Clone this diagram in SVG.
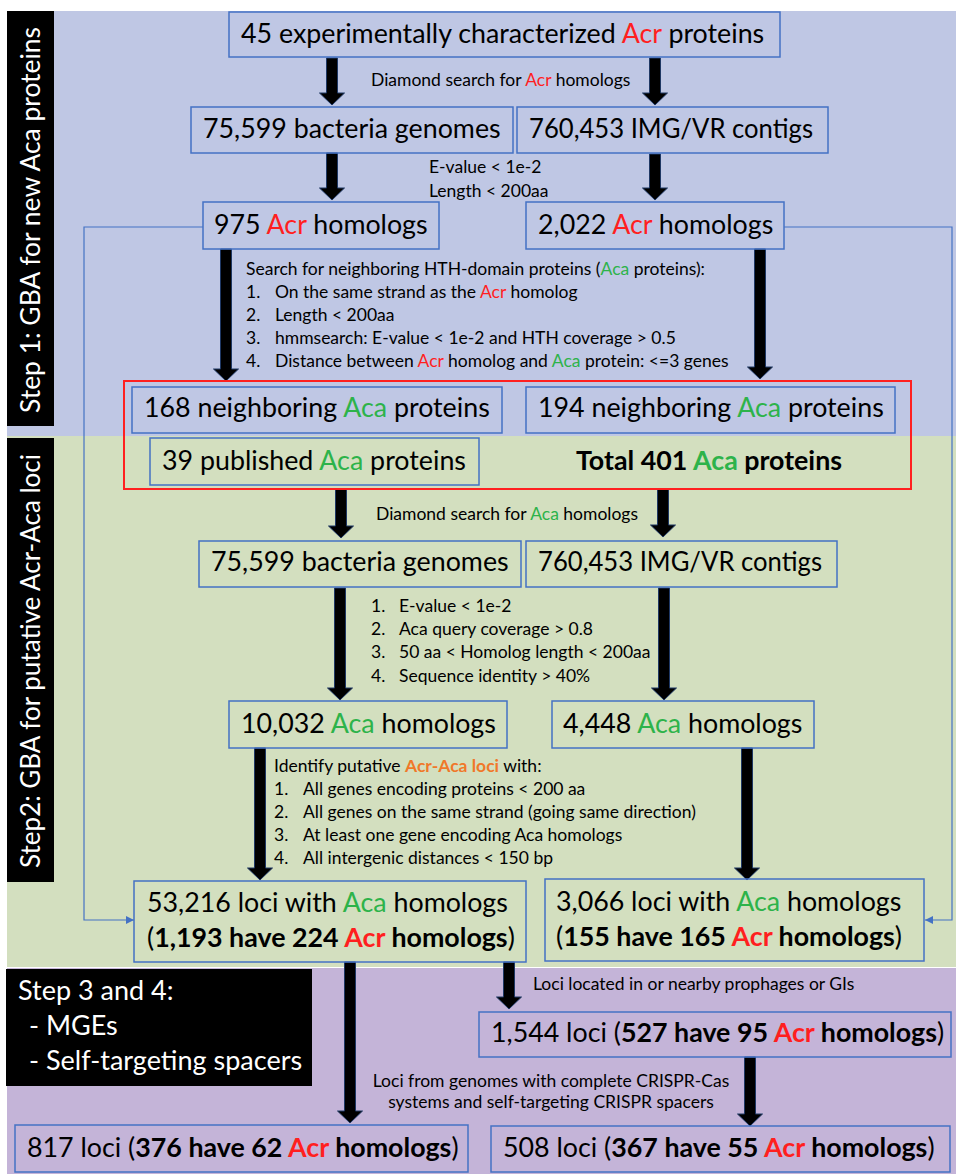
<svg xmlns="http://www.w3.org/2000/svg" width="956" height="1174" viewBox="0 0 956 1174">
<defs>
<style>
.t{font-family:Lato,"Open Sans","Liberation Sans",sans-serif;fill:#000}
.big{font-size:26.8px}
.sm{font-size:17.5px}
.wt{fill:#fff;font-size:27px}
.r{fill:#FF1F1F}
.g{fill:#2DB34A}
.o{fill:#F0782A;font-weight:bold}
.b{font-weight:bold}
.box{fill:none;stroke:#4472C4;stroke-width:1.5}
.arr{fill:#000;stroke:#1F3864;stroke-width:1}
.con{fill:none;stroke:#4472C4;stroke-width:1.2}
</style>
<marker id="ah" viewBox="0 0 10 10" refX="10" refY="5" markerWidth="8" markerHeight="8" markerUnits="userSpaceOnUse" orient="auto"><path d="M0,0 L10,5 L0,10 Z" fill="#4472C4"/></marker>
</defs>
<rect width="956" height="1174" fill="#fff"/>
<rect x="7" y="11" width="949" height="425" fill="#BFC7E4"/>
<rect x="7" y="436" width="949" height="531" fill="#D3DFBF"/>
<rect x="7" y="968" width="949" height="206" fill="#C4B4D8"/>

<g id="label-step1">
<rect x="7" y="11" width="47" height="415" fill="#000"/>
<text class="t wt" transform="translate(40,413) rotate(-90)" textLength="386" lengthAdjust="spacingAndGlyphs">Step 1: GBA for new Aca proteins</text>
</g>
<g id="label-step2">
<rect x="7" y="438" width="47" height="444" fill="#000"/>
<text class="t wt" transform="translate(40,868) rotate(-90)" textLength="414" lengthAdjust="spacingAndGlyphs">Step2: GBA for putative Acr-Aca loci</text>
</g>
<g id="label-step3">
<rect x="6" y="969" width="306" height="117" fill="#000"/>
<text class="t wt" x="18" y="1000">Step 3 and 4:</text>
<text class="t wt" x="29" y="1035">- MGEs</text>
<text class="t wt" x="29" y="1070">- Self-targeting spacers</text>
</g>

<g id="connectors">
<path class="arr" d="M326.5,58 H337.5 V93 H344.5 L332,105 L319.5,93 H326.5 Z"/>
<path class="arr" d="M649.5,58 H660.5 V93 H667.5 L655,105 L642.5,93 H649.5 Z"/>
<path class="arr" d="M326.5,153 H337.5 V188 H344.5 L332,200 L319.5,188 H326.5 Z"/>
<path class="arr" d="M649.5,154 H660.5 V188 H667.5 L655,200 L642.5,188 H649.5 Z"/>
<path class="arr" d="M220.5,249 H231.5 V369 H238.5 L226,381 L213.5,369 H220.5 Z"/>
<path class="arr" d="M754.5,249 H765.5 V367 H772.5 L760,379 L747.5,367 H754.5 Z"/>
<path class="arr" d="M335.5,489 H346.5 V526 H353.5 L341,538 L328.5,526 H335.5 Z"/>
<path class="arr" d="M657.5,489 H668.5 V525 H675.5 L663,537 L650.5,525 H657.5 Z"/>
<path class="arr" d="M334.5,588 H345.5 V688 H352.5 L340,700 L327.5,688 H334.5 Z"/>
<path class="arr" d="M658.5,588 H669.5 V688 H676.5 L664,700 L651.5,688 H658.5 Z"/>
<path class="arr" d="M254.5,748 H265.5 V868 H272.5 L260,880 L247.5,868 H254.5 Z"/>
<path class="arr" d="M741.5,748 H752.5 V868 H759.5 L747,880 L734.5,868 H741.5 Z"/>
<path class="arr" d="M344.5,962 H355.5 V1111 H362.5 L350,1123 L337.5,1111 H344.5 Z"/>
<path class="arr" d="M503.5,962 H514.5 V997 H521.5 L509,1009 L496.5,997 H503.5 Z"/>
<path class="arr" d="M744.5,1057 H755.5 V1114 H762.5 L750,1126 L737.5,1114 H744.5 Z"/>
<path class="con" d="M203,227 H84 V920 H134" marker-end="url(#ah)"/>
<path class="con" d="M784,227 H952 V920 H925" marker-end="url(#ah)"/>
</g>

<g id="lbl-diamond1"><text class="t sm" x="371" y="86">Diamond search for <tspan class="r">Acr</tspan> homologs</text></g>
<g id="lbl-filter1"><text class="t sm" x="429" y="173">E-value &lt; 1e-2</text><text class="t sm" x="429" y="197">Length &lt; 200aa</text></g>
<g id="lbl-hth">
<text class="t sm" x="246" y="275">Search for neighboring HTH-domain proteins (<tspan class="g">Aca</tspan> proteins):</text>
<text class="t sm" x="246" y="298">1.</text><text class="t sm" x="275" y="298">On the same strand as the <tspan class="r">Acr</tspan> homolog</text>
<text class="t sm" x="246" y="321">2.</text><text class="t sm" x="275" y="321">Length &lt; 200aa</text>
<text class="t sm" x="246" y="344">3.</text><text class="t sm" x="275" y="344">hmmsearch: E-value &lt; 1e-2 and HTH coverage &gt; 0.5</text>
<text class="t sm" x="246" y="367">4.</text><text class="t sm" x="275" y="367">Distance between <tspan class="r">Acr</tspan> homolog and <tspan class="g">Aca</tspan> protein: &lt;=3 genes</text>
</g>
<g id="lbl-diamond2"><text class="t sm" x="376" y="520">Diamond search for <tspan class="g">Aca</tspan> homologs</text></g>
<g id="lbl-filter2">
<text class="t sm" x="371" y="612">1.</text><text class="t sm" x="399" y="612">E-value &lt; 1e-2</text>
<text class="t sm" x="371" y="635">2.</text><text class="t sm" x="399" y="635">Aca query coverage &gt; 0.8</text>
<text class="t sm" x="371" y="658">3.</text><text class="t sm" x="399" y="658">50 aa &lt; Homolog length &lt; 200aa</text>
<text class="t sm" x="371" y="682">4.</text><text class="t sm" x="399" y="682">Sequence identity &gt; 40%</text>
</g>
<g id="lbl-loci">
<text class="t sm" x="274" y="772">Identify putative <tspan class="o">Acr-Aca loci</tspan> with:</text>
<text class="t sm" x="274" y="795">1.</text><text class="t sm" x="303" y="795">All genes encoding proteins &lt; 200 aa</text>
<text class="t sm" x="274" y="818">2.</text><text class="t sm" x="303" y="818">All genes on the same strand (going same direction)</text>
<text class="t sm" x="274" y="841">3.</text><text class="t sm" x="303" y="841">At least one gene encoding Aca homologs</text>
<text class="t sm" x="274" y="864">4.</text><text class="t sm" x="303" y="864">All intergenic distances &lt; 150 bp</text>
</g>
<g id="lbl-prophage"><text class="t sm" x="533" y="990">Loci located in or nearby prophages or GIs</text></g>
<g id="lbl-crispr"><text class="t sm" x="551" y="1087" text-anchor="middle">Loci from genomes with complete CRISPR-Cas</text><text class="t sm" x="551" y="1108" text-anchor="middle">systems and self-targeting CRISPR spacers</text></g>

<g id="n-acr45"><rect class="box" x="229" y="12" width="551" height="45"/><text class="t big" x="241" y="43">45 experimentally characterized <tspan class="r">Acr</tspan> proteins</text></g>
<g id="n-bact1"><rect class="box" x="191" y="107" width="322" height="46"/><text class="t big" x="203" y="138">75,599 bacteria genomes</text></g>
<g id="n-img1"><rect class="box" x="517" y="107" width="311" height="46"/><text class="t big" x="529" y="138" textLength="284" lengthAdjust="spacingAndGlyphs">760,453 IMG/VR contigs</text></g>
<g id="n-acr975"><rect class="box" x="203" y="202" width="236" height="47"/><text class="t big" x="214" y="234">975 <tspan class="r">Acr</tspan> homologs</text></g>
<g id="n-acr2022"><rect class="box" x="526" y="202" width="258" height="47"/><text class="t big" x="538" y="234">2,022 <tspan class="r">Acr</tspan> homologs</text></g>
<g id="n-total"><rect x="124" y="381" width="787" height="108" fill="none" stroke="#FF2020" stroke-width="2"/></g>
<g id="n-aca168"><rect class="box" x="132" y="387" width="370" height="46"/><text class="t big" x="144" y="417">168 neighboring <tspan class="g">Aca</tspan> proteins</text></g>
<g id="n-aca194"><rect class="box" x="526" y="387" width="369" height="46"/><text class="t big" x="538" y="417">194 neighboring <tspan class="g">Aca</tspan> proteins</text></g>
<g id="n-aca39"><rect class="box" x="150" y="438" width="329" height="47"/><text class="t big" x="162" y="470">39 published <tspan class="g">Aca</tspan> proteins</text></g>
<g id="n-aca401"><text class="t big b" x="576" y="470">Total 401 <tspan class="g">Aca</tspan> proteins</text></g>
<g id="n-bact2"><rect class="box" x="199" y="541" width="322" height="46"/><text class="t big" x="211" y="571">75,599 bacteria genomes</text></g>
<g id="n-img2"><rect class="box" x="526" y="541" width="311" height="46"/><text class="t big" x="538" y="571" textLength="284" lengthAdjust="spacingAndGlyphs">760,453 IMG/VR contigs</text></g>
<g id="n-aca10032"><rect class="box" x="229" y="701" width="278" height="47"/><text class="t big" x="241" y="733">10,032 <tspan class="g">Aca</tspan> homologs</text></g>
<g id="n-aca4448"><rect class="box" x="552" y="701" width="262" height="47"/><text class="t big" x="563" y="733">4,448 <tspan class="g">Aca</tspan> homologs</text></g>
<g id="n-loci53216"><rect class="box" x="134" y="881" width="392" height="81"/><text class="t big" x="147" y="912">53,216 loci with <tspan class="g">Aca</tspan> homologs</text><text class="t big" x="147" y="947">(<tspan class="b">1,193 have 224 </tspan><tspan class="r b">Acr</tspan><tspan class="b"> homologs</tspan>)</text></g>
<g id="n-loci3066"><rect class="box" x="545" y="879" width="379" height="82"/><text class="t big" x="556" y="911">3,066 loci with <tspan class="g">Aca</tspan> homologs</text><text class="t big" x="556" y="946">(<tspan class="b">155 have 165 </tspan><tspan class="r b">Acr</tspan><tspan class="b"> homologs</tspan>)</text></g>
<g id="n-loci1544"><rect class="box" x="479" y="1012" width="472" height="45"/><text class="t big" x="491" y="1042">1,544 loci (<tspan class="b">527 have 95 </tspan><tspan class="r b">Acr</tspan><tspan class="b"> homologs</tspan>)</text></g>
<g id="n-loci817"><rect class="box" x="15" y="1125" width="453" height="47"/><text class="t big" x="27" y="1157">817 loci (<tspan class="b">376 have 62 </tspan><tspan class="r b">Acr</tspan><tspan class="b"> homologs</tspan>)</text></g>
<g id="n-loci508"><rect class="box" x="491" y="1126" width="459" height="46"/><text class="t big" x="503" y="1157">508 loci (<tspan class="b">367 have 55 </tspan><tspan class="r b">Acr</tspan><tspan class="b"> homologs</tspan>)</text></g>
</svg>
